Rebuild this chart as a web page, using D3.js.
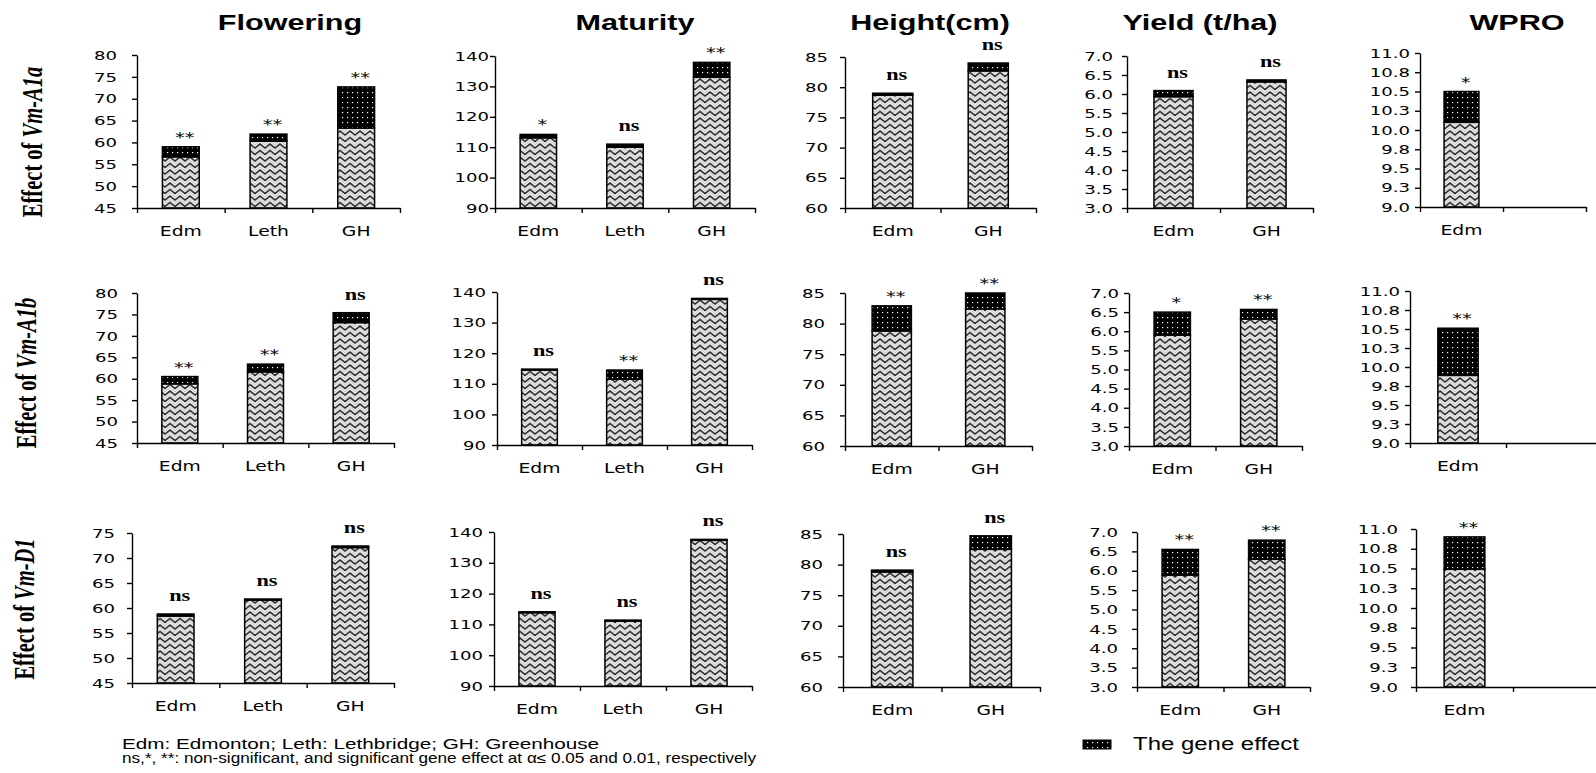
<!DOCTYPE html>
<html>
<head>
<meta charset="utf-8">
<script src="https://cdn.jsdelivr.net/npm/d3@7/dist/d3.min.js"></script>
<style>
  body { margin: 0; background: #fff; }
  svg { display: block; }
</style>
</head>
<body>
<script>
// ---- data ----
var genes = ["Vm-A1a", "Vm-A1b", "Vm-D1"];
var traits = ["Flowering", "Maturity", "Height(cm)", "Yield (t/ha)", "WPRO"];
var sites3 = ["Edm", "Leth", "GH"];
var sites2 = ["Edm", "GH"];
var sites1 = ["Edm", " "];

// one row per gene (Vm-A1a, Vm-A1b, Vm-D1); base = without the gene, effect = the gene effect
var floweringBase   = [[56.7, 60.3, 63.3], [58.8, 61.6, 73.1], [58.4, 61.6, 72.1]];
var floweringEffect = [[2.3, 1.6, 9.4], [1.7, 1.8, 2.3], [0.4, 0.2, 0.3]];
var floweringSig    = [["**", "**", "**"], ["**", "**", "ns"], ["ns", "ns", "ns"]];

var maturityBase   = [[113.1, 110.0, 133.0], [114.5, 111.5, 137.6], [113.8, 111.1, 137.3]];
var maturityEffect = [[1.1, 1.0, 4.9], [0.3, 3.0, 0.3], [0.3, 0.3, 0.3]];
var maturitySig    = [["*", "ns", "**"], ["ns", "**", "ns"], ["ns", "ns", "ns"]];

var heightBase   = [[78.7, 82.7], [78.8, 82.4], [78.8, 82.5]];
var heightEffect = [[0.3, 1.3], [4.1, 2.6], [0.3, 2.2]];
var heightSig    = [["ns", "ns"], ["**", "**"], ["ns", "ns"]];

var yieldBase   = [[5.93, 6.32], [5.9, 6.32], [5.89, 6.3]];
var yieldEffect = [[0.16, 0.05], [0.6, 0.25], [0.66, 0.49]];
var yieldSig    = [["ns", "ns"], ["*", "**"], ["**", "**"]];

var wproBase   = [[10.1], [9.89], [10.49]];
var wproEffect = [[0.4], [0.62], [0.41]];
var wproSig    = [["*"], ["**"], ["**"]];

var floweringTicks = [[45, 50, 55, 60, 65, 70, 75, 80], [45, 50, 55, 60, 65, 70, 75, 80], [45, 50, 55, 60, 65, 70, 75]];
var maturityTicks = [90, 100, 110, 120, 130, 140];
var heightTicks = [60, 65, 70, 75, 80, 85];
var yieldTicks = [3.0, 3.5, 4.0, 4.5, 5.0, 5.5, 6.0, 6.5, 7.0];
var wproTicks = [9.0, 9.25, 9.5, 9.75, 10.0, 10.25, 10.5, 10.75, 11.0];

var notes = ["Edm:  Edmonton;  Leth: Lethbridge;  GH: Greenhouse",
             "ns,*, **: non-significant,  and significant gene effect at \u03b1\u2264 0.05 and 0.01, respectively"];
var legendLabel = "The gene effect";

// ---- panels built from the arrays ----
var panels = [
  {cats: sites3, base: floweringBase, eff: floweringEffect, sig: floweringSig, ticks: floweringTicks, fmt: d3.format("d")},
  {cats: sites3, base: maturityBase, eff: maturityEffect, sig: maturitySig, ticks: [maturityTicks, maturityTicks, maturityTicks], fmt: d3.format("d")},
  {cats: sites2, base: heightBase, eff: heightEffect, sig: heightSig, ticks: [heightTicks, heightTicks, heightTicks], fmt: d3.format("d")},
  {cats: sites2, base: yieldBase, eff: yieldEffect, sig: yieldSig, ticks: [yieldTicks, yieldTicks, yieldTicks], fmt: d3.format(".1f")},
  {cats: sites1, base: wproBase, eff: wproEffect, sig: wproSig, ticks: [wproTicks, wproTicks, wproTicks], fmt: d3.format(".1f")}
];

// plot frames: y-axis x, x-axis end, top, bottom, gap from axis to tick label
var frames = [
  [{x0: 137, x1: 400, y0: 55, y1: 208, gap: 20}, {x0: 495, x1: 755, y0: 56, y1: 208, gap: 6},
   {x0: 845, x1: 1036, y0: 57, y1: 208, gap: 17}, {x0: 1127, x1: 1313, y0: 56, y1: 208, gap: 14},
   {x0: 1420, x1: 1586, y0: 53, y1: 207, gap: 10}],
  [{x0: 137, x1: 394, y0: 293, y1: 443, gap: 19}, {x0: 497, x1: 752, y0: 292, y1: 445, gap: 11},
   {x0: 845, x1: 1032, y0: 293, y1: 446, gap: 20}, {x0: 1129, x1: 1302, y0: 293, y1: 446, gap: 10},
   {x0: 1410, x1: 1602, y0: 291, y1: 443, gap: 10}],
  [{x0: 132, x1: 394, y0: 533, y1: 683, gap: 17}, {x0: 494, x1: 752, y0: 532, y1: 686, gap: 11},
   {x0: 843, x1: 1040, y0: 534, y1: 687, gap: 20}, {x0: 1137, x1: 1310, y0: 532, y1: 687, gap: 19},
   {x0: 1416, x1: 1610, y0: 529, y1: 687, gap: 18}]
];
var titleX = [290, 635, 930, 1200, 1517];
var rowLabelPos = [{x: 33, y: 142}, {x: 27, y: 373}, {x: 25, y: 609}];

var W = 1596, H = 773;
var S = 1.39;   // the figure's lettering is stretched sideways
var sans = "'DejaVu Sans', Verdana, sans-serif";
var arial = "'Liberation Sans', Arial, sans-serif";
var serif = "'Liberation Serif', 'Times New Roman', serif";

var svg = d3.select("body").append("svg").attr("width", W).attr("height", H);

// fill patterns
var defs = svg.append("defs");
var zig = defs.append("pattern").attr("id", "zig").attr("patternUnits", "userSpaceOnUse")
  .attr("width", 10).attr("height", 6.5);
zig.append("rect").attr("width", 10).attr("height", 6.5).attr("fill", "#f2f2f2");
zig.append("path").attr("d", "M-2.5,3 L0,1 L5,5 L10,1 L12.5,3")
  .attr("fill", "none").attr("stroke", "#262626").attr("stroke-width", 1.6);
zig.append("path").attr("d", "M-2.5,-0.25 L0,-2.25 L5,1.75 L10,-2.25 L12.5,-0.25 M-2.5,6.25 L0,4.25 L5,8.25 L10,4.25 L12.5,6.25")
  .attr("fill", "none").attr("stroke", "#b0b0b0").attr("stroke-width", 0.8);
var dots = defs.append("pattern").attr("id", "dots").attr("patternUnits", "userSpaceOnUse")
  .attr("width", 5).attr("height", 5);
dots.append("rect").attr("width", 5).attr("height", 5).attr("fill", "#000");
dots.append("rect").attr("x", 2).attr("y", 2).attr("width", 1.2).attr("height", 1.2).attr("fill", "#fff");

// column titles
svg.selectAll("text.title").data(traits).enter().append("text")
  .attr("class", "title")
  .attr("transform", function(d, i) { return "translate(" + titleX[i] + ",30) scale(" + S + ",1)"; })
  .attr("text-anchor", "middle")
  .attr("font-family", arial).attr("font-weight", "bold").attr("font-size", 22)
  .text(function(d) { return d; });

// row labels
genes.forEach(function(gname, r) {
  var p = rowLabelPos[r];
  var t = svg.append("text")
    .attr("transform", "translate(" + p.x + "," + p.y + ") rotate(-90) scale(1," + S + ")")
    .attr("text-anchor", "middle").attr("dy", "0.33em")
    .attr("font-family", serif).attr("font-weight", "bold").attr("font-size", 20.5);
  t.append("tspan").text("Effect of ");
  t.append("tspan").attr("font-style", "italic").text(gname);
});

// panels
frames.forEach(function(row, r) {
  row.forEach(function(f, c) {
    var p = panels[c];
    var ticks = p.ticks[r];
    var lo = ticks[0], hi = ticks[ticks.length - 1];
    var y = d3.scaleLinear().domain([lo, hi]).range([f.y1, f.y0]);
    var x = d3.scaleBand().domain(p.cats).range([f.x0, f.x1]).paddingInner(0.58).paddingOuter(0.29);
    var g = svg.append("g");

    var bars = p.base[r].map(function(b, i) {
      return {cat: p.cats[i], base: b, eff: p.eff[r][i], sig: p.sig[r][i]};
    });

    g.selectAll("rect.base").data(bars).enter().append("rect")
      .attr("x", function(d) { return x(d.cat); })
      .attr("width", x.bandwidth())
      .attr("y", function(d) { return y(d.base); })
      .attr("height", function(d) { return y(lo) - y(d.base); })
      .attr("fill", "url(#zig)").attr("stroke", "#000").attr("stroke-width", 1.5);

    g.selectAll("rect.eff").data(bars).enter().append("rect")
      .attr("x", function(d) { return x(d.cat); })
      .attr("width", x.bandwidth())
      .attr("y", function(d) { return y(d.base + d.eff); })
      .attr("height", function(d) { return y(d.base) - y(d.base + d.eff); })
      .attr("fill", "url(#dots)").attr("stroke", "#000").attr("stroke-width", 1.5);

    g.selectAll("text.sig").data(bars).enter().append("text")
      .attr("transform", function(d) {
        var cx = x(d.cat) + x.bandwidth() / 2 + 4;
        var cy = y(d.base + d.eff) - (d.sig == "ns" ? 13 : 5);
        return "translate(" + cx + "," + cy + ") scale(" + S + ",1)";
      })
      .attr("text-anchor", "middle")
      .attr("font-family", function(d) { return d.sig == "ns" ? serif : sans; })
      .attr("font-weight", function(d) { return d.sig == "ns" ? "bold" : "normal"; })
      .attr("font-size", function(d) { return d.sig == "ns" ? 16 : 14; })
      .text(function(d) { return d.sig; });

    // y axis
    var ya = g.append("g").attr("transform", "translate(" + f.x0 + ",0)")
      .call(d3.axisLeft(y).tickValues(ticks).tickFormat(p.fmt).tickSize(5).tickSizeOuter(0));
    ya.selectAll("text").attr("x", -f.gap / S).attr("transform", "scale(" + S + ",1)")
      .attr("font-family", sans).attr("font-size", 13).attr("fill", "#000");

    // x axis: ticks at category boundaries
    var n = p.cats.length;
    var xb = d3.scaleLinear().domain([0, n]).range([f.x0, f.x1]);
    g.append("g").attr("transform", "translate(0," + f.y1 + ")")
      .call(d3.axisBottom(xb).tickValues(d3.range(n + 1)).tickFormat("").tickSize(5).tickSizeOuter(0));

    var xl = g.append("g").attr("transform", "translate(0," + f.y1 + ")")
      .call(d3.axisBottom(x).tickSize(0).tickPadding(18));
    xl.select(".domain").remove();
    xl.selectAll("text").attr("transform", "scale(" + S + ",1)")
      .attr("font-family", sans).attr("font-size", 13.5).attr("fill", "#000");

    g.selectAll(".domain, .tick line").attr("stroke", "#000").attr("stroke-width", 1.4);
  });
});

// footnote
svg.selectAll("text.note").data(notes).enter().append("text")
  .attr("class", "note")
  .attr("x", 122)
  .attr("y", function(d, i) { return 749 + i * 14; })
  .attr("font-family", arial).attr("font-size", 14)
  .attr("textLength", function(d, i) { return i == 0 ? 477 : 634; })
  .attr("lengthAdjust", "spacingAndGlyphs")
  .text(function(d) { return d; });

// legend
svg.append("rect").attr("x", 1083).attr("y", 740).attr("width", 28).attr("height", 9)
  .attr("fill", "url(#dots)").attr("stroke", "#000");
svg.append("text").attr("x", 1133).attr("y", 750)
  .attr("font-family", arial).attr("font-size", 17.5)
  .attr("textLength", 166).attr("lengthAdjust", "spacingAndGlyphs")
  .text(legendLabel);
</script>
</body>
</html>
